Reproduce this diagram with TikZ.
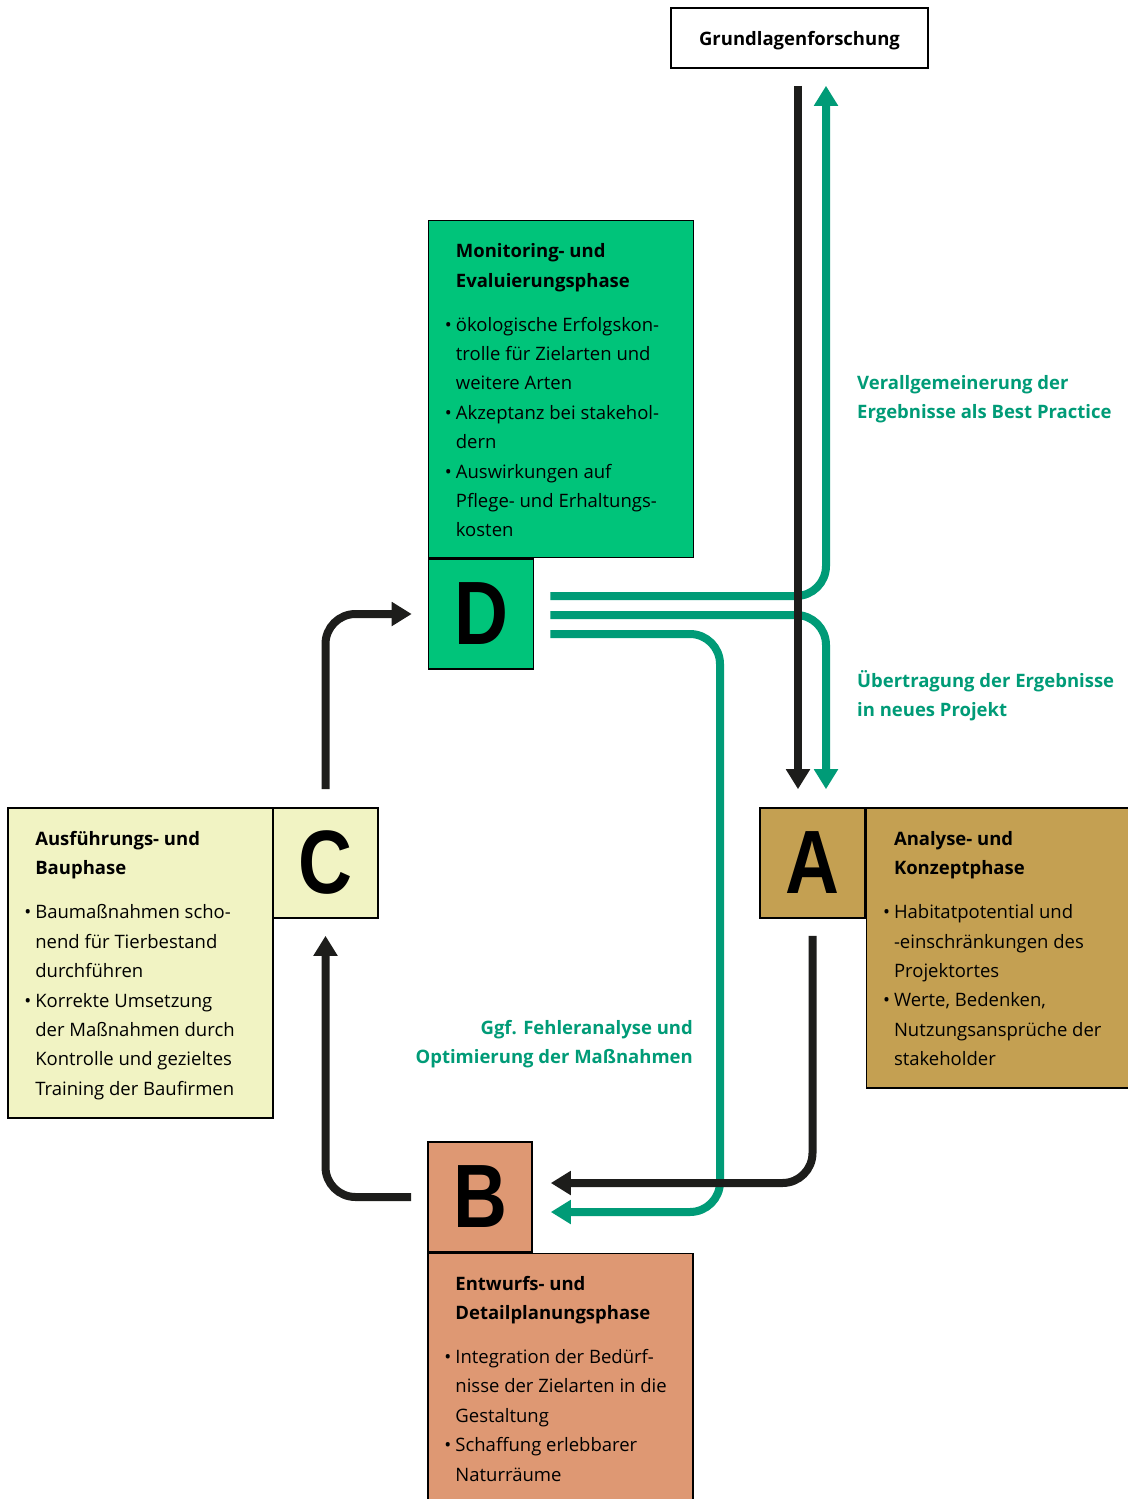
\documentclass[tikz,border=0pt]{standalone}
\usepackage{fontspec}
\setmainfont{Open Sans}
\newfontfamily\letterfont{Liberation Sans}[FakeStretch=0.83]
\usetikzlibrary{arrows.meta,positioning}

\definecolor{monigreen}{HTML}{00C47A}
\definecolor{flowgreen}{HTML}{009B77}
\definecolor{flowblack}{HTML}{1D1D1B}
\definecolor{ausfyellow}{HTML}{F1F3C3}
\definecolor{analysegold}{HTML}{C4A052}
\definecolor{entwurfrose}{HTML}{DE9873}

\newcommand{\bul}{\llap{\textbullet\hspace{4pt}}}

\begin{document}
\begin{tikzpicture}[x=1pt,y=-1pt,
  letter/.style={draw=black, line width=1.6pt, minimum width=105, minimum height=110,
    inner sep=0, font=\letterfont\bfseries\fontsize{90}{90}\selectfont},
  infobox/.style={draw=black, line width=1.6pt, minimum width=265, inner sep=0},
  infotext/.style={anchor=north west, inner sep=0, align=left,
    font=\fontsize{18.5}{29.4}\selectfont},
  lbl/.style={inner sep=0, align=left, text=flowgreen,
    font=\bfseries\fontsize{18.5}{29.4}\selectfont},
  flow/.style={line width=8pt, rounded corners=30pt,
    -{Triangle[width=23pt,length=20pt]}}]

\useasboundingbox (0,0) rectangle (1127,1499);

% top box
\node[draw=black, line width=1.6pt, minimum width=257, minimum height=60, text depth=0pt,
  font=\bfseries\fontsize{18.5}{22}\selectfont] (G) at (799.5,38) {Grundlagenforschung};

% phase letters
\node[letter, fill=monigreen] (D) at (481,614) {D};
\node[letter, fill=ausfyellow] (C) at (325.5,863) {C};
\node[letter, fill=analysegold] (A) at (812.5,863) {A};
\node[letter, fill=entwurfrose, minimum width=104] (B) at (480,1197) {B};

% description boxes
\node[infobox, fill=monigreen, minimum height=337, anchor=south west] (Dbox) at (D.north west) {};
\node[infobox, fill=ausfyellow, minimum height=310, anchor=north east] (Cbox) at ([xshift=1.5pt]C.north west) {};
\node[infobox, fill=analysegold, minimum height=280, anchor=north west] (Abox) at (A.north east) {};
\node[infobox, fill=entwurfrose, minimum height=260, anchor=north west] (Bbox) at (B.south west) {};

\node[infotext] (Dtext) at ([shift={(28,24)}]Dbox.north west)
  {\textbf{Monitoring- und}\\\textbf{Evaluierungsphase}\\[14.5pt]
   \bul ökologische Erfolgskon-\\trolle für Zielarten und\\weitere Arten\\
   \bul Akzeptanz bei stakehol-\\dern\\
   \bul Auswirkungen auf\\Pflege- und Erhaltungs-\\kosten};
\node[infotext] (Ctext) at ([shift={(28,24)}]Cbox.north west)
  {\textbf{Ausführungs- und}\\\textbf{Bauphase}\\[14.5pt]
   \bul Baumaßnahmen scho-\\nend für Tierbestand\\durchführen\\
   \bul Korrekte Umsetzung\\der Maßnahmen durch\\Kontrolle und gezieltes\\Training der Baufirmen};
\node[infotext] (Atext) at ([shift={(28,24)}]Abox.north west)
  {\textbf{Analyse- und}\\\textbf{Konzeptphase}\\[14.5pt]
   \bul Habitatpotential und\\-einschränkungen des\\Projektortes\\
   \bul Werte, Bedenken,\\Nutzungsansprüche der\\stakeholder};
\node[infotext] (Btext) at ([shift={(28,23)}]Bbox.north west)
  {\textbf{Entwurfs- und}\\\textbf{Detailplanungsphase}\\[14.5pt]
   \bul Integration der Bedürf-\\nisse der Zielarten in die\\Gestaltung\\
   \bul Schaffung erlebbarer\\Naturräume};

% green labels
\node[lbl, anchor=north west] (Lgen) at (857,375) {Verallgemeinerung der\\Ergebnisse als Best Practice};
\node[lbl, anchor=north west] (Ltrans) at (857,670) {Übertragung der Ergebnisse\\in neues Projekt};
\node[lbl, anchor=north east, align=right] (Lfehler) at (693,1020) {Ggf. Fehleranalyse und\\Optimierung der Maßnahmen};

% green flows out of D
\draw[flow, flowgreen] ([shift={(16,-18)}]D.east) -| ([shift={(26.5,17)}]G.south);
\draw[flow, flowgreen] ([shift={(16,1)}]D.east) -| ([shift={(13.5,-18)}]A.north);
\draw[flow, flowgreen] ([shift={(16,20)}]D.east) -| (720,900) |- ([shift={(18,15)}]B.east);

% black cycle
\draw[flow, flowblack] ([shift={(-1.5,17)}]G.south) -- ([shift={(-14.5,-18)}]A.north);
\draw[flow, flowblack] ([shift={(0,17)}]A.south) |- ([shift={(18,-14)}]B.east);
\draw[flow, flowblack] ([shift={(-16,0)}]B.west) -| ([shift={(0,17)}]C.south);
\draw[flow, flowblack] ([shift={(0,-18)}]C.north) |- ([shift={(-16,0)}]D.west);

\end{tikzpicture}
\end{document}
